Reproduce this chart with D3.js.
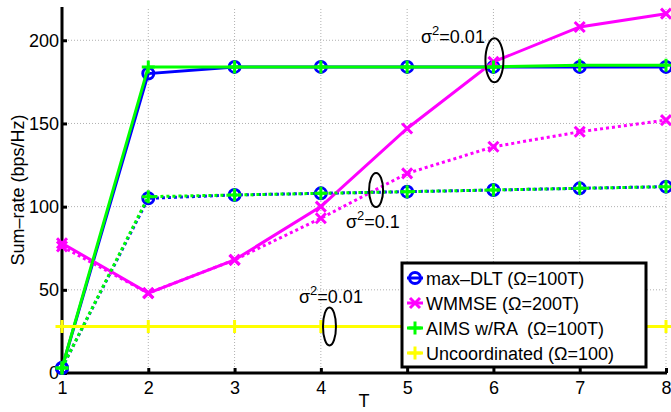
<!DOCTYPE html>
<html>
<head>
<meta charset="utf-8">
<script src="https://cdn.jsdelivr.net/npm/d3@7"></script>
<style>
  body { margin: 0; background: #fff; }
  svg text { font-family: "Liberation Sans", Arial, sans-serif; }
</style>
</head>
<body>
<div id="chart"></div>
<script>
// --------- DATA ---------
const T = [1, 2, 3, 4, 5, 6, 7, 8];
const yTicks = [0, 50, 100, 150, 200];

// sigma^2 = 0.01 (solid)
const maxDltLow   = [3, 180, 184, 184, 184, 184, 184, 184];
const wmmseLow    = [78, 48, 68, 100, 147, 187, 208, 216];
const aimsLow     = [3, 184, 184, 184, 184, 184, 185, 185];
// sigma^2 = 0.1 (dotted)
const maxDltHigh  = [3, 105, 107, 108, 109, 110, 111, 112];
const wmmseHigh   = [76, 48, 68, 93, 120, 136, 145, 152];
const aimsHigh    = [3, 106, 107, 108, 109, 110, 111, 112];
// uncoordinated
const uncoord     = [28, 28, 28, 28, 28, 28, 28, 28];

const legendNames = ["max\u2013DLT (\u03A9=100T)", "WMMSE (\u03A9=200T)",
                     "AIMS w/RA \u00A0(\u03A9=100T)", "Uncoordinated (\u03A9=100)"];

// --------- GRAPHING ---------
const width = 671, height = 412;
const margin = {top: 7, right: 5, bottom: 39, left: 62};
const fs = 18;

let svg = d3.select("#chart").append("svg")
    .attr("width", width).attr("height", height);

let x = d3.scaleLinear().domain([1, 8]).range([margin.left, width - margin.right]);
let y = d3.scaleLinear().domain([0, 220]).range([height - margin.bottom, margin.top]);

// gridlines
let grid = svg.append("g").attr("stroke", "#b0b0b0").attr("stroke-width", 1)
    .attr("stroke-dasharray", "1,2");
T.slice(1).forEach(t => {
    grid.append("line").attr("x1", x(t)).attr("x2", x(t))
        .attr("y1", y(0)).attr("y2", y(220));
});
yTicks.slice(1).forEach(v => {
    grid.append("line").attr("x1", x(1)).attr("x2", x(8))
        .attr("y1", y(v)).attr("y2", y(v));
});

// axes
let xAxis = svg.append("g").attr("transform", `translate(0,${y(0)})`)
    .call(d3.axisBottom(x).tickValues(T).tickFormat(d3.format("d")).tickSizeInner(-5).tickSizeOuter(0).tickPadding(8));
let yAxis = svg.append("g").attr("transform", `translate(${x(1)},0)`)
    .call(d3.axisLeft(y).tickValues(yTicks).tickSizeInner(-5).tickSizeOuter(0).tickPadding(3));
[xAxis, yAxis].forEach(a => {
    a.select(".domain").attr("stroke-width", 3);
    a.selectAll(".tick line").attr("stroke-width", 3);
    a.selectAll("text").attr("font-size", fs).attr("fill", "#000")
        .attr("font-family", "Liberation Sans, Arial, sans-serif");
});
xAxis.select(".domain").attr("d", `M${x(1)},0H${x(8) + 1}`);
yAxis.select(".domain").attr("d", `M0,${y(0)}V${y(220)}`);

svg.append("text").attr("x", x(4.5)).attr("y", 407).attr("text-anchor", "middle")
    .attr("font-size", fs).text("T");
svg.append("text").attr("transform", `translate(24,${y(110)}) rotate(-90)`)
    .attr("text-anchor", "middle").attr("font-size", fs).text("Sum\u2013rate (bps/Hz)");

// lines + markers
let line = d3.line().x((d, i) => x(T[i])).y(d => y(d));

function marker(g, kind, cx, cy, color) {
    if (kind === "o") {
        g.append("circle").attr("cx", cx).attr("cy", cy).attr("r", 5.5)
            .attr("fill", "none").attr("stroke", color).attr("stroke-width", 3);
    } else if (kind === "x") {
        let s = 5;
        g.append("path").attr("d", `M${cx - s},${cy - s}L${cx + s},${cy + s}M${cx - s},${cy + s}L${cx + s},${cy - s}`)
            .attr("stroke", color).attr("stroke-width", 3).attr("fill", "none");
    } else {
        let s = 6.5;
        g.append("path").attr("d", `M${cx - s},${cy}H${cx + s}M${cx},${cy - s}V${cy + s}`)
            .attr("stroke", color).attr("stroke-width", 3).attr("fill", "none");
    }
}

function series(data, color, kind, dotted) {
    let g = svg.append("g");
    g.append("path").attr("d", line(data)).attr("fill", "none")
        .attr("stroke", color).attr("stroke-width", 3)
        .attr("stroke-dasharray", dotted ? "3,3" : null);
    data.forEach((d, i) => marker(g, kind, x(T[i]), y(d), color));
}

const blue = "#0000ff", magenta = "#ff00ff", green = "#00ff00", yellow = "#ffff00";

series(maxDltLow, blue, "o", false);
series(maxDltHigh, blue, "o", true);
series(wmmseLow, magenta, "x", false);
series(wmmseHigh, magenta, "x", true);
series(aimsLow, green, "+", false);
series(aimsHigh, green, "+", true);
series(uncoord, yellow, "+", false);

// annotations
function ellipse(cx, cy, rx, ry) {
    svg.append("ellipse").attr("cx", cx).attr("cy", cy).attr("rx", rx).attr("ry", ry)
        .attr("fill", "none").attr("stroke", "#000").attr("stroke-width", 2);
}
function sigma(xp, yp, val) {
    let t = svg.append("text").attr("x", xp).attr("y", yp).attr("font-size", fs);
    t.append("tspan").text("\u03C3");
    t.append("tspan").attr("dy", -8).attr("font-size", 13).text("2");
    t.append("tspan").attr("dy", 8).text("=" + val);
}
ellipse(x(6) + 1, y(188), 9, 22);
sigma(421, 43, "0.01");
ellipse(x(4.64), y(110), 7, 17);
sigma(346, 228, "0.1");
ellipse(x(4.1), y(28), 6.5, 19);
sigma(299, 303, "0.01");

// legend
let lg = svg.append("g");
lg.append("rect").attr("x", 402).attr("y", 263).attr("width", 244).attr("height", 104)
    .attr("fill", "#fff").attr("stroke", "#000").attr("stroke-width", 3);
const legendColors = [blue, magenta, green, yellow];
const legendKinds = ["o", "x", "+", "+"];
legendNames.forEach((name, i) => {
    let cy = 278 + i * 25;
    lg.append("line").attr("x1", 407).attr("x2", 423).attr("y1", cy).attr("y2", cy)
        .attr("stroke", legendColors[i]).attr("stroke-width", 3);
    marker(lg, legendKinds[i], 415, cy, legendColors[i]);
    lg.append("text").attr("x", 426).attr("y", cy + 6.5).attr("font-size", fs).text(name);
});
</script>
</body>
</html>
